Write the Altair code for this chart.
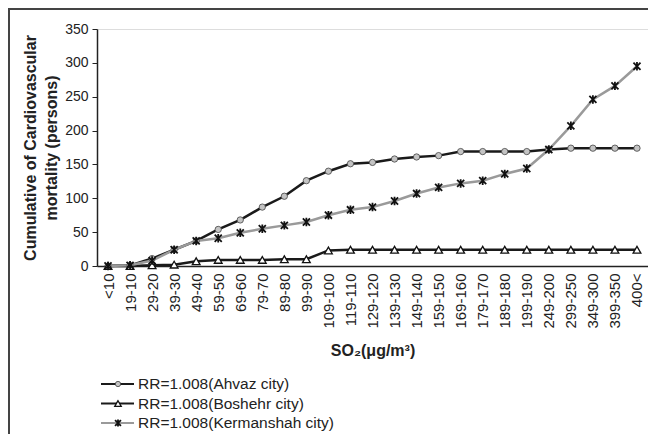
import altair as alt
import pandas as pd

cats = ["<10", "19-10", "29-20", "39-30", "49-40", "59-50", "69-60", "79-70", "89-80",
        "99-90", "109-100", "119-110", "129-120", "139-130", "149-140", "159-150",
        "169-160", "179-170", "189-180", "199-190", "249-200", "299-250", "349-300",
        "399-350", "400<"]
ahvaz = [0, 1, 11, 24, 37, 54, 68, 87, 103, 126, 140, 151, 153, 158, 161, 163, 169, 169,
         169, 169, 172, 174, 174, 174, 174]
boshehr = [0, 0, 1, 2, 7, 9, 9, 9, 10, 10, 23, 24, 24, 24, 24, 24, 24, 24, 24, 24, 24,
           24, 24, 24, 24]
kermanshah = [0, 1, 8, 24, 37, 41, 49, 55, 60, 65, 75, 83, 87, 96, 107, 116, 122, 126,
              136, 144, 172, 207, 246, 266, 295]

series = ["Ahvaz", "Boshehr", "Kermanshah"]
labels = ["RR=1.008(Ahvaz city)", "RR=1.008(Boshehr city)", "RR=1.008(Kermanshah city)"]
line_colors = ["#1a1a1a", "#1a1a1a", "#9a9a9a"]
values = {"Ahvaz": ahvaz, "Boshehr": boshehr, "Kermanshah": kermanshah}

FONT = "Liberation Sans"
STAR = "M-1,-1L1,1M-1,1L1,-1M0,-1.2L0,1.2"

marker_style = {
    "Ahvaz": dict(shape="circle", filled=True, fill="#c4c4c4", stroke="#444444",
                  strokeWidth=0.8, size=40, opacity=1),
    "Boshehr": dict(shape="triangle-up", filled=True, fill="white", stroke="#111111",
                    strokeWidth=1.3, size=60, opacity=1),
    "Kermanshah": dict(shape=STAR, filled=False, stroke="#111111", strokeWidth=1.8,
                       size=50, opacity=1),
}

rows = []
for s in series:
    for c, v in zip(cats, values[s]):
        rows.append({"cat": c, "value": v, "series": s})
df = pd.DataFrame(rows)

xenc = alt.X("cat:N", sort=cats, title="SO₂(μg/m³)",
             axis=alt.Axis(labelAngle=-90, ticks=False, labelPadding=7,
                           labelFontSize=15, labelFont=FONT, labelColor="#222",
                           titleFontSize=16, titleFontWeight="bold", titleFont=FONT,
                           titleColor="#222", titlePadding=14, domainColor="#222",
                           domainWidth=1.5, grid=False))
yenc = alt.Y("value:Q", scale=alt.Scale(domain=[0, 350], nice=False),
             title=["Cumulative of Cardiovascular", "mortality (persons)"],
             axis=alt.Axis(values=[0, 50, 100, 150, 200, 250, 300, 350], grid=False,
                           tickSize=5, tickColor="#222", domainColor="#222",
                           domainWidth=1.5, labelFontSize=14, labelFont=FONT,
                           labelColor="#222", labelPadding=4, titleFontSize=16,
                           titleFontWeight="bold", titleFont=FONT, titleColor="#222",
                           titleLineHeight=21, titlePadding=5))
color = alt.Color("series:N", scale=alt.Scale(domain=series, range=line_colors), legend=None)

layers = []
for s in series:
    base = alt.Chart(df).transform_filter(alt.datum.series == s)
    layers.append(base.mark_line(strokeWidth=2.5).encode(x=xenc, y=yenc, color=color))
for s in series:
    base = alt.Chart(df).transform_filter(alt.datum.series == s)
    layers.append(base.mark_point(**marker_style[s]).encode(x=xenc, y=yenc))
main = alt.layer(*layers)

leg_df = pd.DataFrame({"series": series, "label": labels})
ly = alt.Y("series:N", scale=alt.Scale(type="point", domain=series, range=[355, 394],
                                        padding=0), axis=None)
leg_layers = [
    alt.Chart(leg_df).mark_rule(strokeWidth=2).encode(
        x=alt.value(4), x2=alt.value(37), y=ly, color=color),
]
for s in series:
    leg_layers.append(
        alt.Chart(leg_df).transform_filter(alt.datum.series == s)
        .mark_point(**{**marker_style[s], "size": marker_style[s]["size"] * 0.7})
        .encode(x=alt.value(21), y=ly))
leg_layers.append(
    alt.Chart(leg_df).mark_text(align="left", baseline="middle", fontSize=15.5, font=FONT,
                                color="#222").encode(x=alt.value(41), y=ly, text="label:N"))
legend = alt.layer(*leg_layers)

frame_df = pd.DataFrame({"k": [0]})
frame = alt.layer(
    alt.Chart(frame_df).mark_rule(strokeWidth=2, color="#444").encode(
        x=alt.value(-88), y=alt.value(-20), y2=alt.value(420)),
    alt.Chart(frame_df).mark_rule(strokeWidth=2, color="#444").encode(
        x=alt.value(-89), x2=alt.value(600), y=alt.value(-20)),
)

chart = alt.layer(main, legend, frame).resolve_scale(y="independent").properties(
    width=551, height=237,
    autosize=alt.AutoSizeParams(type="none"),
    padding={"left": 89, "top": 21, "right": 0, "bottom": 168},
).configure_view(stroke=None).configure(background="white")

chart.save("out.html", embed_options={"renderer": "svg", "actions": False})
